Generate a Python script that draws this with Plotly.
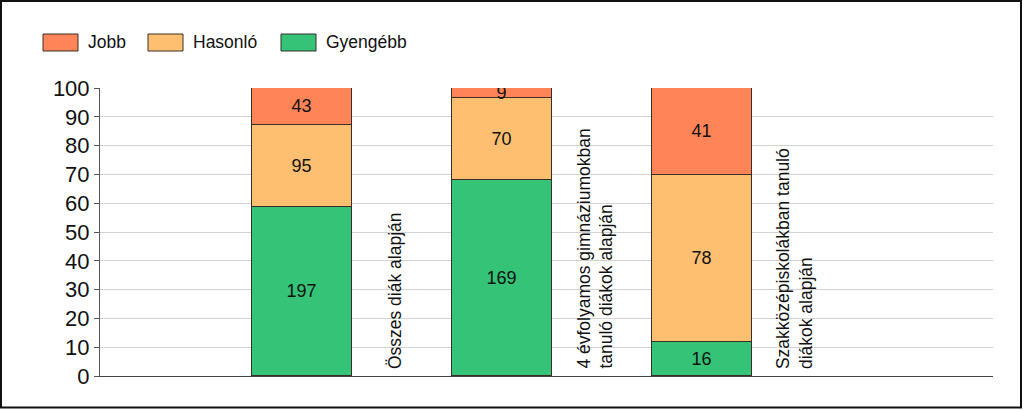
import plotly.graph_objects as go

# data: counts of students per group, shown as 100% stacked bars
categories = [
    "Összes diák alapján",
    "4 évfolyamos gimnáziumokban<br>tanuló diákok alapján",
    "Szakközépiskolákban tanuló<br>diákok alapján",
]
series_names = ["Gyengébb", "Hasonló", "Jobb"]
gyengebb = [197, 169, 16]
hasonlo = [95, 70, 78]
jobb = [43, 9, 41]
y_ticks = [0, 10, 20, 30, 40, 50, 60, 70, 80, 90, 100]

COLORS = {"Jobb": "#ff8458", "Hasonló": "#ffbf70", "Gyengébb": "#34c377"}
EDGE = "#3a2e26"
FONT = "Liberation Sans, Arial, sans-serif"

# plot area in pixels (used for layout-only decorations)
L, R, T, B = 100, 993, 88, 376


def px_x(px):
    return (px - L) / (R - L)


def px_y(py):
    return (B - py) / (B - T)


totals = [a + b + c for a, b, c in zip(gyengebb, hasonlo, jobb)]
positions = [1, 2, 3]

fig = go.Figure()
for name, counts in zip(series_names, [gyengebb, hasonlo, jobb]):
    pct = [c / t * 100 for c, t in zip(counts, totals)]
    fig.add_trace(go.Bar(
        x=positions, y=pct, name=name, width=0.5,
        text=[str(c) for c in counts],
        textposition="inside", insidetextanchor="middle",
        constraintext="none", textangle=0,
        textfont=dict(size=18, color="#111", family=FONT),
        marker=dict(color=COLORS[name], line=dict(color=EDGE, width=1)),
        showlegend=False, hoverinfo="skip",
    ))

# category labels, rotated, right of each bar
for pos, label in zip(positions, categories):
    fig.add_annotation(
        x=pos + 0.465, y=0, xref="x", yref="y", text=label, textangle=-90,
        showarrow=False, xanchor="center", yanchor="bottom", yshift=5,
        align="left", font=dict(size=17.5, color="#111", family=FONT),
    )

# legend drawn by hand to get the wide swatches
legend_items = [("Jobb", 43, 86), ("Hasonló", 148, 191), ("Gyengébb", 281, 324)]
for name, sx, tx in legend_items:
    fig.add_shape(type="rect", xref="paper", yref="paper",
                  x0=px_x(sx), x1=px_x(sx + 35), y0=px_y(51), y1=px_y(34),
                  fillcolor=COLORS[name], line=dict(color=EDGE, width=1))
    fig.add_annotation(x=px_x(tx), y=px_y(42.5), xref="paper", yref="paper",
                       text=name, showarrow=False, xanchor="left", yanchor="middle",
                       font=dict(size=17.5, color="#111", family=FONT))

# outer frame
fig.add_shape(type="rect", xref="paper", yref="paper",
              x0=px_x(1), x1=px_x(1021), y0=px_y(407.5), y1=px_y(1),
              line=dict(color="#111", width=2), layer="below")

fig.update_layout(
    width=1024, height=410,
    margin=dict(l=L, r=1024 - R, t=T, b=410 - B),
    barmode="stack", bargap=0,
    plot_bgcolor="white", paper_bgcolor="white",
    font=dict(family=FONT, color="#111"),
)
fig.update_xaxes(range=[-0.008, (R - L) / 200 - 0.008], showticklabels=False,
                 showgrid=False, zeroline=False, showline=True, linecolor="#444",
                 linewidth=1, fixedrange=True)
fig.update_yaxes(range=[0, 100], tickvals=y_ticks, ticks="outside", ticklen=5,
                 tickcolor="#555", showline=True, linecolor="#555", linewidth=1,
                 gridcolor="#d2d2d2", zeroline=False,
                 tickfont=dict(size=22, color="#111", family=FONT), fixedrange=True)

fig.write_html(
    "out.html",
    config={"displayModeBar": False},
    post_script="document.body.style.margin='0';",
)
